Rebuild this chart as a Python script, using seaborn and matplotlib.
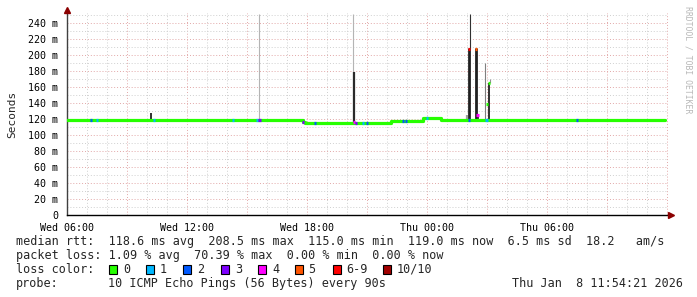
import numpy as np
import pandas as pd
import seaborn as sns
import matplotlib
matplotlib.use("Agg")
import matplotlib.pyplot as plt
from matplotlib.patches import Rectangle

# ---------------- data (hours since Wed 06:00) ----------------
median_t = [0.0, 11.8, 11.9, 15.8, 16.2, 17.8, 18.7, 29.92]
median_v = [118.6, 117.0, 115.0, 115.5, 118.5, 121.8, 118.9, 118.9]

# loss-colour marks on the median line: time, value, loss class index
mark_t = [1.2, 1.5, 4.35, 8.3, 9.5, 9.62, 11.8, 12.4, 14.35, 14.45, 14.8, 15.0,
          16.8, 16.95, 18.0, 20.1, 20.53, 20.98, 25.5, 20.1, 20.45, 21.1, 21.0]
mark_v = [118.6, 118.6, 118.6, 118.6, 118.6, 118.6, 117.0, 115.0, 117.0, 115.0, 115.0, 115.0,
          118.5, 118.5, 121.8, 118.9, 125.0, 118.9, 118.9, 208.5, 208.5, 165.0, 139.0]
mark_c = [2, 1, 1, 1, 1, 3, 3, 2, 4, 3, 1, 2,
          2, 2, 1, 2, 4, 1, 2, 6, 5, 0, 0]

# smoke spikes: time, low, high, shade
smoke_t = [4.18, 9.6, 14.3, 14.33, 20.0, 20.1, 20.13, 20.45, 20.9, 21.1, 21.14, 20.55]
smoke_lo = [118, 119, 115, 115, 118, 118, 208, 118, 118, 118, 165, 118]
smoke_hi = [128, 252, 252, 179.5, 125, 208.7, 252, 208.7, 190, 165, 170, 127]
smoke_shade = ["#202020", "#b4b4b4", "#b4b4b4", "#2a2a2a", "#a0a0a0", "#202020",
               "#303030", "#202020", "#808080", "#202020", "#909090", "#303030"]
smoke_w = [1.3, 0.8, 0.8, 1.6, 1.6, 2.0, 0.8, 2.0, 0.8, 1.3, 0.8, 1.3]

loss_colors = ["#26ff00", "#00b8ff", "#0059ff", "#7e00ff", "#ff00ff", "#ff5500", "#ff0000", "#a10000"]
loss_labels = ["0", "1", "2", "3", "4", "5", "6-9", "10/10"]

xtick_pos = [0, 6, 12, 18, 24]
xtick_lab = ["Wed 06:00", "Wed 12:00", "Wed 18:00", "Thu 00:00", "Thu 06:00"]
ytick_pos = list(range(0, 241, 20))
ytick_lab = ["0"] + [f"{v} m" for v in range(20, 241, 20)]

line1 = "median rtt:  118.6 ms avg  208.5 ms max  115.0 ms min  119.0 ms now  6.5 ms sd  18.2   am/s"
line2 = "packet loss: 1.09 % avg  70.39 % max  0.00 % min  0.00 % now"
line3 = "loss color:"
line4a = "probe:"
line4b = "10 ICMP Echo Pings (56 Bytes) every 90s"
line4c = "Thu Jan  8 11:54:21 2026"
watermark = "RRDTOOL / TOBI OETIKER"

# ---------------- figure ----------------
sns.set_style("white")
plt.rcParams["font.family"] = ["DejaVu Sans Mono", "DejaVu Sans"]

W, H = 697, 297
fig = plt.figure(figsize=(W / 100, H / 100), dpi=100)
fig.patch.set_facecolor("white")


def fy(py):
    return 1 - py / H


ax = fig.add_axes([67 / W, 1 - 215.3 / H, 601 / W, 202 / H])
ax.set_facecolor("white")
ax.set_xlim(0, 30.05)
ax.set_ylim(0, 252.5)

# grid
dot = (0, (1, 2))
for h in range(1, 31):
    c = "#e2a8a8" if h % 3 == 0 else "#cfcfcf"
    ax.axvline(h, color=c, lw=0.7, ls=dot, zorder=0)
for v in range(10, 251, 10):
    c = "#e2a8a8" if v % 20 == 0 else "#cfcfcf"
    ax.axhline(v, color=c, lw=0.7, ls=dot, zorder=0)

# smoke
ax.vlines(smoke_t, smoke_lo, smoke_hi, colors=smoke_shade, linewidths=smoke_w, zorder=2)

# median line
df = pd.DataFrame({"t": median_t, "v": median_v})
sns.lineplot(data=df, x="t", y="v", drawstyle="steps-post", color=loss_colors[0],
             lw=2.3, ax=ax, estimator=None, zorder=3)

# loss-colour marks
mt = np.array(mark_t)
ax.hlines(mark_v, mt - 0.06, mt + 0.06, colors=[loss_colors[i] for i in mark_c],
          linewidths=2.3, zorder=4)

# axes styling
for s in ["top", "right"]:
    ax.spines[s].set_visible(False)
ax.spines["left"].set_color("#404040")
ax.spines["bottom"].set_color("#000000")
ax.spines["left"].set_linewidth(1.0)
ax.spines["bottom"].set_linewidth(1.0)
ax.set_xticks(xtick_pos)
ax.set_xticklabels(xtick_lab)
ax.set_yticks(ytick_pos)
ax.set_yticklabels(ytick_lab)
ax.tick_params(axis="both", length=2.5, width=0.8, color="#7f3030", labelsize=7.2,
               labelcolor="#000000", pad=3)
ax.tick_params(axis="y", pad=4)
ax.set_xlabel("")
ax.set_ylabel("Seconds", fontsize=8, labelpad=8)

# arrows
ax.plot([0], [1.0 + 3 / 202], marker="^", color="#8b0000", ms=4.5, transform=ax.transAxes,
        clip_on=False, zorder=6)
ax.plot([1.0 + 3 / 601], [0], marker=">", color="#8b0000", ms=4.5, transform=ax.transAxes,
        clip_on=False, zorder=6)

# watermark
fig.text(688 / W, fy(60), watermark, rotation=270, color="#b8b8b8", fontsize=5.9,
         ha="center", va="center")

# legend text
fs = 8.5
fig.text(16 / W, fy(241), line1, fontsize=fs, va="center", ha="left")
fig.text(16 / W, fy(256), line2, fontsize=fs, va="center", ha="left")
fig.text(16 / W, fy(269.5), line3, fontsize=fs, va="center", ha="left")
fig.text(16 / W, fy(283.5), line4a, fontsize=fs, va="center", ha="left")
fig.text(108 / W, fy(283.5), line4b, fontsize=fs, va="center", ha="left")
fig.text(683 / W, fy(283.5), line4c, fontsize=fs, va="center", ha="right")

box_x = [109, 146, 183.5, 221, 258, 294.6, 332.6, 382.6]
for bx, c, lab in zip(box_x, loss_colors, loss_labels):
    fig.add_artist(Rectangle((bx / W, fy(274)), 8 / W, 9 / H, transform=fig.transFigure,
                             facecolor=c, edgecolor="#000000", lw=0.8))
    fig.text((bx + 14) / W, fy(269.5), lab, fontsize=fs, va="center", ha="left")

fig.savefig("out.png", dpi=100, facecolor="white")
